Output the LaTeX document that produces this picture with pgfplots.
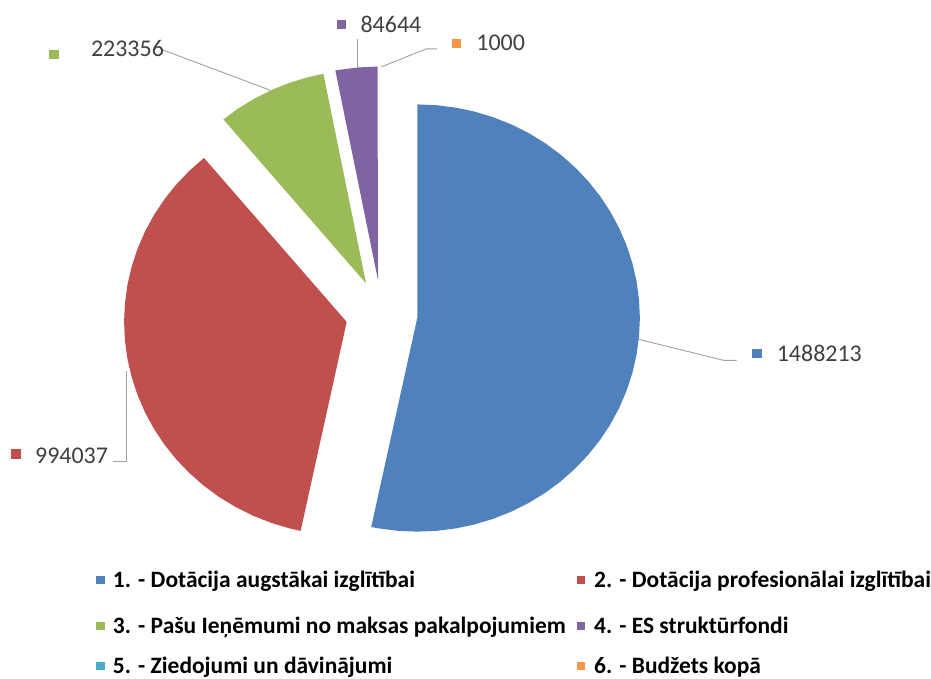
\documentclass[border=0pt]{standalone}
\usepackage{pgfplots}
\pgfplotsset{compat=1.18}
\usepackage{fontspec}
\setmainfont{Carlito}
\definecolor{cBlue}{HTML}{4F81BD}
\definecolor{cRed}{HTML}{C0504D}
\definecolor{cGreen}{HTML}{9BBB59}
\definecolor{cPurple}{HTML}{8064A2}
\definecolor{cCyan}{HTML}{4BACC6}
\definecolor{cOrange}{HTML}{F79646}
\definecolor{lblgray}{HTML}{404040}
\definecolor{leader}{HTML}{A0A0A0}
\newcommand{\lblfont}{\fontsize{24.1}{28}\selectfont}
\newcommand{\legfont}{\fontsize{23.6}{28}\selectfont}
% Values: 1488213, 994037, 223356, 84644, 0, 1000 (total 2791250)
% Slice angles (clockwise from 12 o'clock): blue 90 -> -101.94, red -> -230.14,
% green -> -258.95, purple -> -269.87, orange -> -270 (0.13 deg, invisible in the chart)
\begin{document}
\begin{tikzpicture}
\begin{axis}[at={(0,0)}, anchor=south west, scale only axis,
  width=931bp, height=680bp, xmin=0, xmax=893.4, ymin=-680, ymax=0,
  hide axis, clip=false]
% 1 blue
\addplot[fill=cBlue, draw=none, data cs=polar, xshift=418bp, yshift=-318.6bp] coordinates {
(0,0) (90,214) (85,214) (80,214) (75,214) (70,214) (65,214) (60,214) (55,214) (50,214)
(45,214) (40,214) (35,214) (30,214) (25,214) (20,214) (15,214) (10,214) (5,214) (0,214)
(-5,214) (-10,214) (-15,214) (-20,214) (-25,214) (-30,214) (-35,214) (-40,214) (-45,214)
(-50,214) (-55,214) (-60,214) (-65,214) (-70,214) (-75,214) (-80,214) (-85,214) (-90,214)
(-95,214) (-100,214) (-101.94,214)};
% 2 red
\addplot[fill=cRed, draw=none, data cs=polar, xshift=347.3bp, yshift=-322.5bp] coordinates {
(0,0) (-101.94,214) (-105,214) (-110,214) (-115,214) (-120,214) (-125,214) (-130,214)
(-135,214) (-140,214) (-145,214) (-150,214) (-155,214) (-160,214) (-165,214) (-170,214)
(-175,214) (-180,214) (-185,214) (-190,214) (-195,214) (-200,214) (-205,214) (-210,214)
(-215,214) (-220,214) (-225,214) (-230,214) (-230.14,214)};
% 3 green
\addplot[fill=cGreen, draw=none, data cs=polar, xshift=366.7bp, yshift=-283.9bp] coordinates {
(0,0) (-230.14,214) (-235,214) (-240,214) (-245,214) (-250,214) (-255,214) (-258.95,214)};
% 4 purple
\addplot[fill=cPurple, draw=none, data cs=polar, xshift=378.7bp, yshift=-280.7bp] coordinates {
(0,0) (-258.95,214) (-260,214) (-265,214) (-269.87,214)};
\end{axis}
\begin{axis}[at={(0,0)}, anchor=south west, scale only axis,
  width=931bp, height=680bp, xmin=0, xmax=931, ymin=-680, ymax=0,
  hide axis, clip=false]
\addplot[draw=none, forget plot] coordinates {(0,0) (931,-680)};
% leader lines
\addplot[leader, line width=0.9bp] coordinates {(163,-50) (271,-90.5)};
\addplot[leader, line width=0.9bp] coordinates {(358,-39) (358,-68)};
\addplot[leader, line width=0.9bp] coordinates {(382,-67) (427,-49) (438,-49)};
\addplot[leader, line width=0.9bp] coordinates {(640,-340) (725,-361) (738,-361)};
\addplot[leader, line width=0.9bp] coordinates {(113,-462) (127,-462) (127,-372)};
% label keys
\addplot[only marks, mark=square*, mark size=4.3bp, color=cGreen] coordinates {(54,-54.5)};
\addplot[only marks, mark=square*, mark size=4.1bp, color=cPurple] coordinates {(341.5,-24.5)};
\addplot[only marks, mark=square*, mark size=4.1bp, color=cOrange] coordinates {(457,-43.5)};
\addplot[only marks, mark=square*, mark size=4.3bp, color=cBlue] coordinates {(758,-354)};
\addplot[only marks, mark=square*, mark size=4.5bp, color=cRed] coordinates {(16,-455)};
% label texts
\node[anchor=base west, inner sep=0, font=\lblfont, text=lblgray] at (axis cs:91,-56.5) {223356};
\node[anchor=base west, inner sep=0, font=\lblfont, text=lblgray] at (axis cs:361,-32.3) {84644};
\node[anchor=base west, inner sep=0, font=\lblfont, text=lblgray] at (axis cs:477,-50.7) {1000};
\node[anchor=base west, inner sep=0, font=\lblfont, text=lblgray] at (axis cs:778,-361.7) {1488213};
\node[anchor=base west, inner sep=0, font=\lblfont, text=lblgray] at (axis cs:35,-464) {994037};
% legend keys
\addplot[only marks, mark=square*, mark size=3.7bp, color=cBlue] coordinates {(100.5,-581)};
\addplot[only marks, mark=square*, mark size=3.7bp, color=cRed] coordinates {(582,-581)};
\addplot[only marks, mark=square*, mark size=3.7bp, color=cGreen] coordinates {(100.5,-627)};
\addplot[only marks, mark=square*, mark size=3.7bp, color=cPurple] coordinates {(582,-627)};
\addplot[only marks, mark=square*, mark size=3.7bp, color=cCyan] coordinates {(100.5,-667)};
\addplot[only marks, mark=square*, mark size=3.7bp, color=cOrange] coordinates {(582,-667)};
% legend texts
\node[anchor=base west, inner sep=0, font=\legfont\bfseries] at (axis cs:113,-588.5) {1. - Dotācija augstākai izglītībai};
\node[anchor=base west, inner sep=0, font=\legfont\bfseries] at (axis cs:595,-588.5) {2. - Dotācija profesionālai izglītībai};
\node[anchor=base west, inner sep=0, font=\legfont\bfseries] at (axis cs:113,-634.5) {3. - Pašu Ieņēmumi no maksas pakalpojumiem};
\node[anchor=base west, inner sep=0, font=\legfont\bfseries] at (axis cs:595,-634.5) {4. - ES struktūrfondi};
\node[anchor=base west, inner sep=0, font=\legfont\bfseries] at (axis cs:113,-674.5) {5. - Ziedojumi un dāvinājumi};
\node[anchor=base west, inner sep=0, font=\legfont\bfseries] at (axis cs:595,-674.5) {6. - Budžets kopā};
\end{axis}
\end{tikzpicture}
\end{document}
